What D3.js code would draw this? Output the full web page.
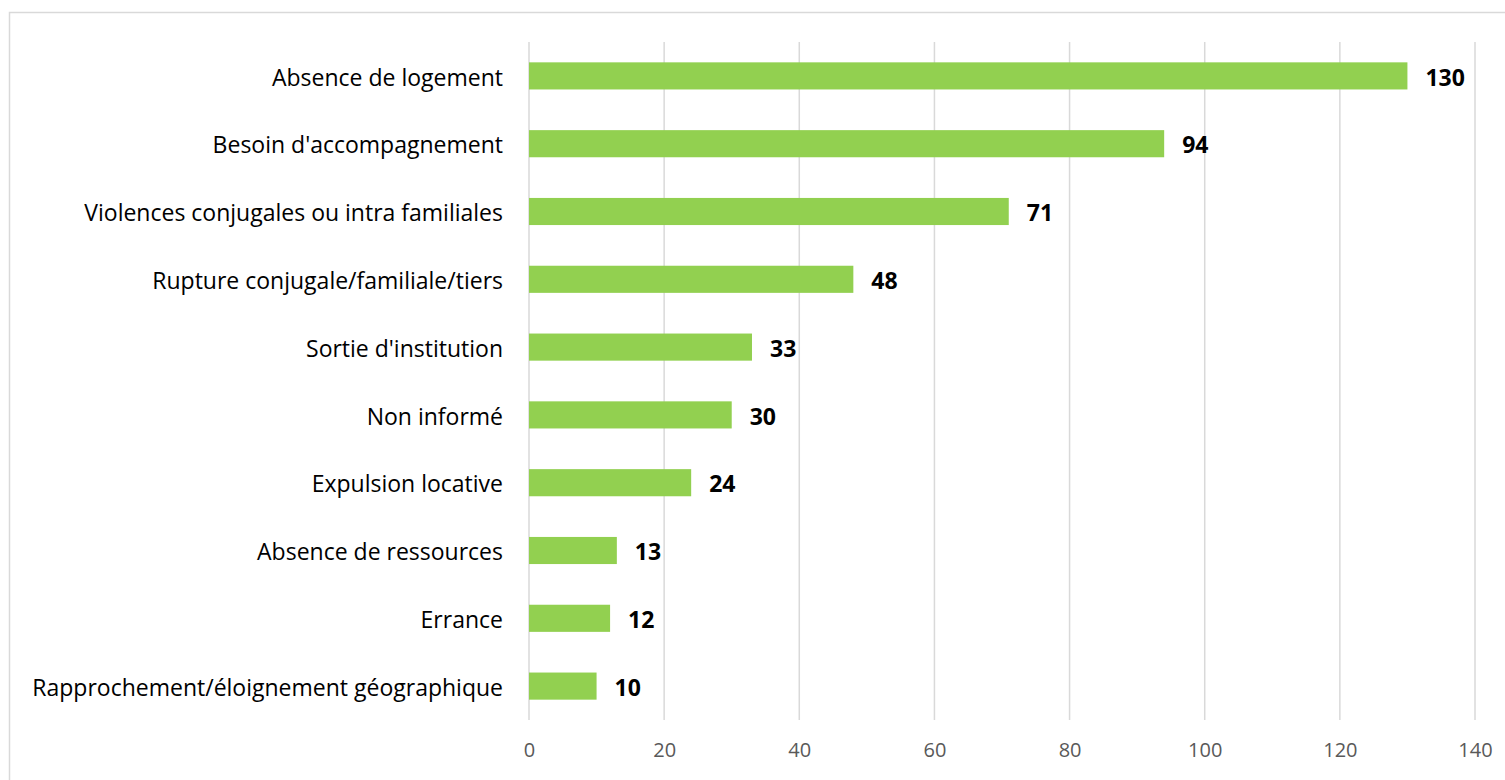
<!DOCTYPE html>
<html><head><meta charset="utf-8">
<script src="https://cdn.jsdelivr.net/npm/d3@7"></script>
<style>body{margin:0;background:#fff}svg{display:block}</style>
</head><body><svg id="c" width="1505" height="780"></svg>
<script>
const categories = ["Absence de logement","Besoin d'accompagnement","Violences conjugales ou intra familiales","Rupture conjugale/familiale/tiers","Sortie d'institution","Non informé","Expulsion locative","Absence de ressources","Errance","Rapprochement/éloignement géographique"];
const values = [130,94,71,48,33,30,24,13,12,10];
const ticks = [0,20,40,60,80,100,120,140];

const svg = d3.select("#c");
const font = "'Open Sans', sans-serif";
svg.append("rect").attr("x",9.5).attr("y",12.5).attr("width",1510).attr("height",800)
  .attr("fill","none").attr("stroke","#d9d9d9").attr("stroke-width",1.5);

const x = d3.scaleLinear().domain([0,140]).range([529,1475]);
const y = d3.scaleBand().domain(categories).range([42,720]).paddingInner(0.6).paddingOuter(0.3);

svg.append("g").selectAll("line").data(ticks).join("line")
  .attr("x1",d=>x(d)).attr("x2",d=>x(d)).attr("y1",42).attr("y2",720)
  .attr("stroke","#d9d9d9").attr("stroke-width",1.5);

const xa = d3.axisBottom(x).tickValues(ticks).tickSize(0).tickPadding(0);
const gx = svg.append("g").attr("transform","translate(0,720)").call(xa);
gx.select(".domain").remove();
gx.selectAll("text").attr("y",30).attr("dy","0.35em").attr("fill","#595959")
  .style("font-family",font).style("font-size","20px");

svg.append("g").selectAll("rect").data(values).join("rect")
  .attr("x",x(0)).attr("y",(d,i)=>y(categories[i]))
  .attr("width",d=>x(d)-x(0)).attr("height",y.bandwidth()).attr("fill","#92D050");

svg.append("g").selectAll("text").data(values).join("text")
  .attr("x",d=>x(d)+18).attr("y",(d,i)=>y(categories[i])+y.bandwidth()/2).attr("dy","0.42em")
  .style("font-family",font).style("font-size","23px").style("font-weight","bold").attr("fill","#000")
  .text(d=>d);

const ya = d3.axisLeft(y).tickSize(0).tickPadding(26);
const gy = svg.append("g").attr("transform","translate(529,0)").call(ya);
gy.select(".domain").remove();
gy.selectAll("text").attr("dy","0.42em").attr("fill","#000").style("font-family",font).style("font-size","23px");
</script></body></html>
